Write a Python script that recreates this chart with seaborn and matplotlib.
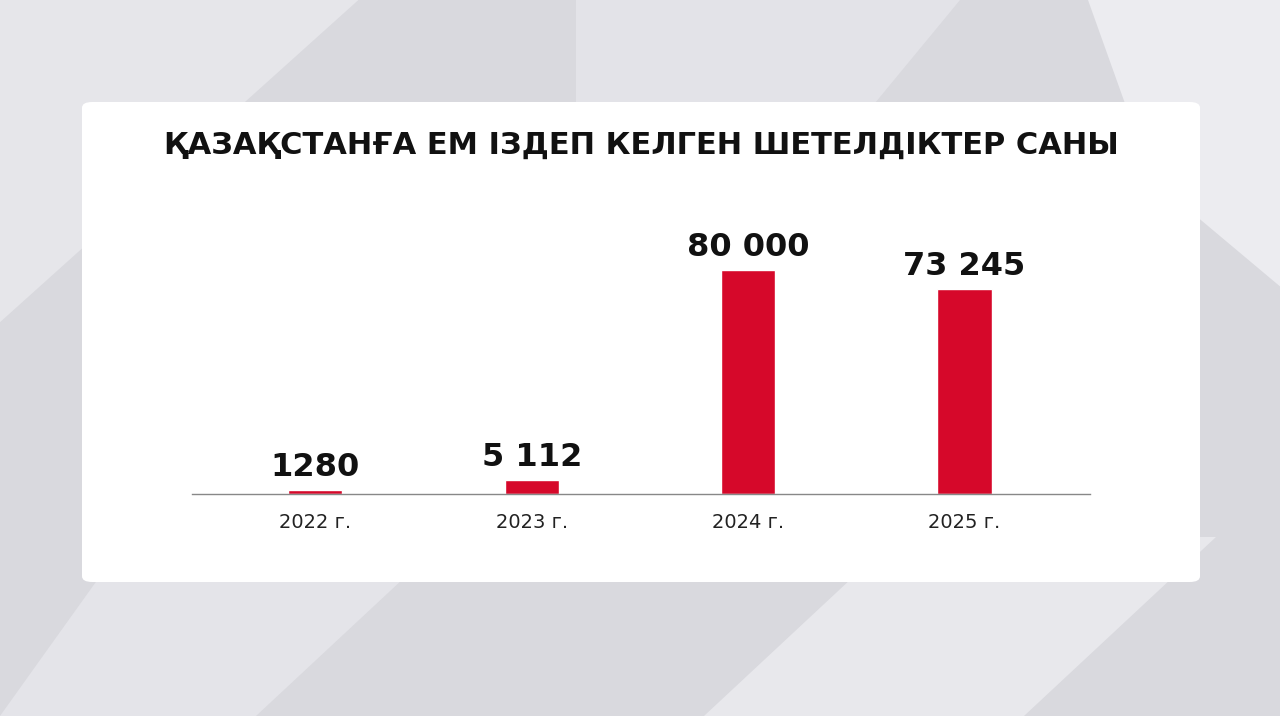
import matplotlib
matplotlib.use("Agg")
import matplotlib.pyplot as plt
import seaborn as sns
import pandas as pd
from matplotlib.patches import FancyBboxPatch, Polygon

years = ["2022 г.", "2023 г.", "2024 г.", "2025 г."]
values = [1280, 5112, 80000, 73245]
value_labels = ["1280", "5 112", "80 000", "73 245"]
title = "ҚАЗАҚСТАНҒА ЕМ ІЗДЕП КЕЛГЕН ШЕТЕЛДІКТЕР САНЫ"

sns.set_theme(style="white")
plt.rcParams["font.family"] = ["DejaVu Sans"]

fig = plt.figure(figsize=(12.8, 7.16), dpi=100)
fig.patch.set_facecolor("#d9d9de")

# soft diagonal background shapes
for pts, c in [
    ([(0.0, 1.0), (0.28, 1.0), (0.0, 0.55)], "#e6e6ea"),
    ([(0.45, 1.0), (0.75, 1.0), (0.45, 0.35)], "#e3e3e8"),
    ([(0.85, 1.0), (1.0, 1.0), (1.0, 0.6), (0.9, 0.75)], "#ececf0"),
    ([(0.0, 0.0), (0.2, 0.0), (0.35, 0.25), (0.1, 0.25)], "#e4e4e9"),
    ([(0.55, 0.0), (0.8, 0.0), (0.95, 0.25), (0.7, 0.25)], "#e8e8ec"),
]:
    fig.patches.append(Polygon(pts, closed=True, transform=fig.transFigure,
                               facecolor=c, edgecolor="none", zorder=0))

panel = FancyBboxPatch((82 / 1280, 1 - 582 / 716), (1200 - 82) / 1280, (582 - 102) / 716,
                       boxstyle="round,pad=0,rounding_size=0.008", transform=fig.transFigure,
                       facecolor="white", edgecolor="none", zorder=1)
fig.patches.append(panel)

fig.text(641 / 1280, 1 - 145 / 716, title, ha="center", va="center",
         fontsize=22, fontweight="bold", color="#111111", zorder=3)

ax = fig.add_axes([192 / 1280, 1 - 494 / 716, 898 / 1280, 294 / 716])
ax.set_zorder(2)
ax.patch.set_alpha(0)
df = pd.DataFrame({"year": years, "value": values})
sns.barplot(data=df, x="year", y="value", color="#d6082a", saturation=1,
            width=0.25, ax=ax)
ax.set_xlim(-0.57, 3.58)
ax.set_ylim(0, 105000)
for i, (v, lab) in enumerate(zip(values, value_labels)):
    ax.text(i, v + 2500, lab, ha="center", va="bottom", fontsize=23,
            fontweight="bold", color="#111111")
for s in ["top", "right", "left"]:
    ax.spines[s].set_visible(False)
ax.spines["bottom"].set_color("#888888")
ax.spines["bottom"].set_linewidth(1)
ax.set_yticks([])
ax.set_xlabel("")
ax.set_ylabel("")
ax.tick_params(axis="x", length=0, pad=14, labelsize=14, labelcolor="#222222")

fig.savefig("out.png", dpi=100)
